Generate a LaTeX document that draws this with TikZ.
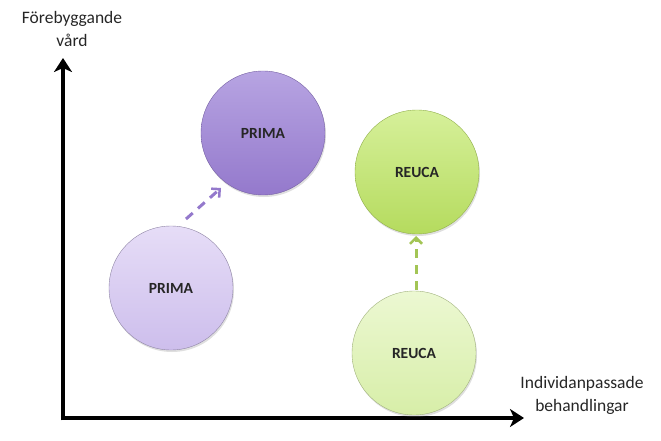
\documentclass[tikz,border=0pt]{standalone}
\usepackage{fontspec}
\setmainfont{Carlito}
\usetikzlibrary{arrows.meta,shadows}
\definecolor{primaDark}{HTML}{9479CC}
\definecolor{primaDarkTop}{HTML}{B7A4E2}
\definecolor{primaLight}{HTML}{CDBEEC}
\definecolor{primaLightTop}{HTML}{E6DDF7}
\definecolor{reucaDark}{HTML}{B5DB5E}
\definecolor{reucaDarkTop}{HTML}{D6F09A}
\definecolor{reucaLight}{HTML}{D7EEA8}
\definecolor{reucaLightTop}{HTML}{ECF8D2}
\tikzset{
  axis/.style={line width=4.5pt,-{Stealth[length=14pt,width=18pt,inset=4pt]}},
  bubble/.style={circle,minimum size=124pt,inner sep=0pt,font=\bfseries\fontsize{15.5}{18}\selectfont,
    text=black!85,drop shadow={opacity=0.25,shadow xshift=1pt,shadow yshift=-2pt}},
  primaA/.style={bubble,draw=primaDark!80!black,top color=primaDarkTop,bottom color=primaDark},
  primaB/.style={bubble,draw=primaLight!70!black,top color=primaLightTop,bottom color=primaLight},
  reucaA/.style={bubble,draw=reucaDark!80!black,top color=reucaDarkTop,bottom color=reucaDark},
  reucaB/.style={bubble,draw=reucaLight!75!black,top color=reucaLightTop,bottom color=reucaLight},
  movearrow/.style={line width=3pt,dash pattern=on 9pt off 7pt,-{Straight Barb[length=6pt,width=12pt,line width=2.5pt]}},
  axislabel/.style={align=center,font=\fontsize{17.5}{23}\selectfont,text=black!85}
}
\begin{document}
\begin{tikzpicture}[x=1pt,y=-1pt]
\useasboundingbox (0,0) rectangle (661,441);
% axes
\coordinate (origin) at (63,418);
\coordinate (ytip) at (63,58);
\coordinate (xtip) at (524,418);
\draw[axis] ([yshift=-2.25pt]origin) -- (ytip);
\draw[axis] ([xshift=-2.25pt]origin) -- (xtip);
\node[axislabel] (ylab) at (72,29) {Förebyggande\\vård};
\node[axislabel] (xlab) at (582,395) {Individanpassade\\behandlingar};
% bubbles
\node[primaB] (p1) at (171,288) {PRIMA};
\node[primaA] (p2) at (263,133) {PRIMA};
\node[reucaA] (r2) at (417,172) {REUCA};
\node[reucaB] (r1) at (414,353) {REUCA};
% movement arrows
\coordinate (p1s) at (186,219);
\coordinate (p2e) at (221,188);
\draw[movearrow,draw=primaDark] (p1s) -- (p2e);
\coordinate (r1s) at (416,290);
\coordinate (r2e) at (416,236);
\draw[movearrow,draw=reucaDark!90!black] (r1s) -- (r2e);
\end{tikzpicture}
\end{document}
